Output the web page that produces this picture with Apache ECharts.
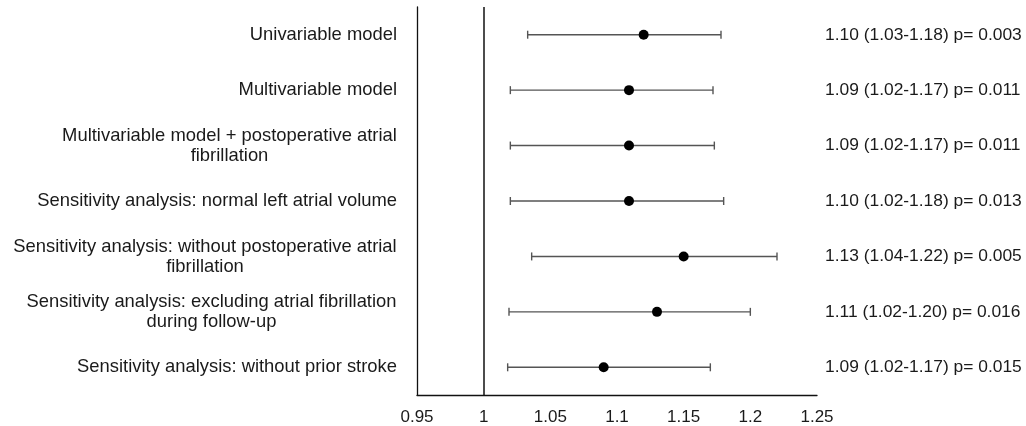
<!DOCTYPE html>
<html lang="en">
<head>
    <meta charset="UTF-8">
    <title>Forest plot</title>
    <script src="https://cdn.jsdelivr.net/npm/echarts@6/dist/echarts.min.js"></script>
    <style>
        html, body { margin: 0; padding: 0; background: #fff; }
        #chart { width: 1026px; height: 426px; }
    </style>
</head>
<body>
    <div id="chart"></div>
    <script>
        // 数据
        var labels = [
            'Univariable model',
            'Multivariable model',
            'Multivariable model + postoperative atrial\nfibrillation',
            'Sensitivity analysis: normal left atrial volume',
            'Sensitivity analysis: without postoperative atrial\nfibrillation',
            'Sensitivity analysis: excluding atrial fibrillation\nduring follow-up',
            'Sensitivity analysis: without prior stroke'
        ];
        var estimate = [1.12, 1.109, 1.109, 1.109, 1.15, 1.13, 1.09];
        var lower = [1.033, 1.02, 1.02, 1.02, 1.036, 1.019, 1.018];
        var upper = [1.178, 1.172, 1.173, 1.18, 1.22, 1.2, 1.17];
        var annotations = [
            '1.10 (1.03-1.18) p= 0.003',
            '1.09 (1.02-1.17) p= 0.011',
            '1.09 (1.02-1.17) p= 0.011',
            '1.10 (1.02-1.18) p= 0.013',
            '1.13 (1.04-1.22) p= 0.005',
            '1.11 (1.02-1.20) p= 0.016',
            '1.09 (1.02-1.17) p= 0.015'
        ];
        var xMin = 0.95, xMax = 1.25, xStep = 0.05;
        var refValue = 1;

        var FONT = '"Liberation Sans", Arial, sans-serif';
        var LABEL_SIZE = 18.4;

        // 多行标签居中：先量出最长一行的宽度
        var ctx = document.createElement('canvas').getContext('2d');
        ctx.font = LABEL_SIZE + 'px ' + FONT;
        var rich = {};
        labels.forEach(function (l, i) {
            var w = 0;
            l.split('\n').forEach(function (s) { w = Math.max(w, ctx.measureText(s).width); });
            rich['r' + i] = { width: Math.ceil(w), align: 'center', fontSize: LABEL_SIZE, lineHeight: 20, color: '#1a1a1a', fontFamily: FONT };
        });

        var myChart = echarts.init(document.getElementById('chart'));

        var option = {
            animation: false,
            textStyle: { fontFamily: FONT },
            grid: { left: 417, right: 209, top: 7, bottom: 31 },
            xAxis: {
                type: 'value',
                min: xMin,
                max: xMax,
                interval: xStep,
                splitLine: { show: false },
                axisTick: { show: false },
                axisLine: { show: true, lineStyle: { color: '#111', width: 1.3 } },
                axisLabel: {
                    fontSize: 17, color: '#1a1a1a', margin: 14,
                    formatter: function (v) { return String(parseFloat(v.toFixed(2))); }
                }
            },
            yAxis: [
                {
                    type: 'category',
                    inverse: true,
                    data: labels,
                    axisTick: { show: false },
                    axisLine: { show: true, lineStyle: { color: '#111', width: 1.3 } },
                    axisLabel: {
                        fontSize: LABEL_SIZE, color: '#1a1a1a', margin: 20, lineHeight: 20,
                        align: 'right',
                        formatter: function (v, idx) {
                            var lines = v.split('\n');
                            if (lines.length === 1) return v;
                            return lines.map(function (s) { return '{r' + idx + '|' + s + '}'; }).join('\n');
                        },
                        rich: rich
                    }
                },
                {
                    type: 'category',
                    inverse: true,
                    position: 'right',
                    data: annotations,
                    axisTick: { show: false },
                    axisLine: { show: false },
                    axisLabel: { fontSize: 17.4, color: '#1a1a1a', margin: 8, align: 'left' }
                }
            ],
            series: [
                {
                    // 置信区间
                    type: 'custom',
                    renderItem: function (params, api) {
                        var y = api.value(2);
                        var p1 = api.coord([api.value(0), y]);
                        var p2 = api.coord([api.value(1), y]);
                        var cap = 4;
                        var st = { stroke: '#555', lineWidth: 1.4 };
                        return {
                            type: 'group',
                            children: [
                                { type: 'line', shape: { x1: p1[0], y1: p1[1], x2: p2[0], y2: p2[1] }, style: st },
                                { type: 'line', shape: { x1: p1[0], y1: p1[1] - cap, x2: p1[0], y2: p1[1] + cap }, style: st },
                                { type: 'line', shape: { x1: p2[0], y1: p2[1] - cap, x2: p2[0], y2: p2[1] + cap }, style: st }
                            ]
                        };
                    },
                    encode: { x: [0, 1], y: 2 },
                    data: lower.map(function (lo, i) { return [lo, upper[i], i]; }),
                    z: 2
                },
                {
                    type: 'scatter',
                    symbol: 'circle',
                    symbolSize: 10,
                    itemStyle: { color: '#000', opacity: 1 },
                    data: estimate.map(function (v, i) { return [v, i]; }),
                    markLine: {
                        silent: true,
                        symbol: 'none',
                        label: { show: false },
                        lineStyle: { color: '#111', width: 1.5, type: 'solid' },
                        data: [{ xAxis: refValue }]
                    },
                    z: 3
                }
            ]
        };

        myChart.setOption(option);
    </script>
</body>
</html>
